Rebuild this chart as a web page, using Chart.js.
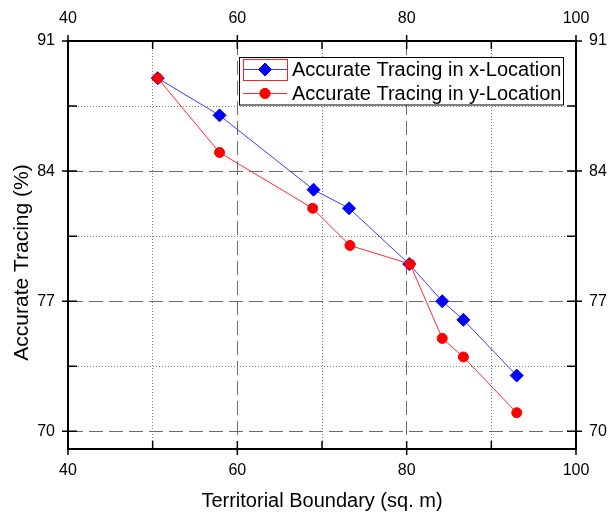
<!DOCTYPE html>
<html><head><meta charset="utf-8">
<script src="https://cdn.jsdelivr.net/npm/chart.js@4.4.1/dist/chart.umd.min.js"></script>
<style>html,body{margin:0;padding:0;background:#fff}canvas{display:block}</style>
</head><body>
<canvas id="c" width="608" height="514"></canvas>
<script>
// ---- data ----
const xTicks = [40, 50, 60, 70, 80, 90, 100];
const xMajor = [40, 60, 80, 100];
const yTicks = [70, 73.5, 77, 80.5, 84, 87.5, 91];
const yMajor = [70, 77, 84, 91];

const xLocArea = [50.6, 57.9, 69.0, 73.2, 80.3, 84.2, 86.7, 93.0];
const xLocAcc  = [89, 87, 83, 82, 79, 77, 76, 73];
const yLocArea = [50.6, 57.9, 68.9, 73.3, 80.4, 84.2, 86.7, 93.0];
const yLocAcc  = [89, 85, 82, 80, 79, 75, 74, 71];

const seriesNames = ['Accurate Tracing in x-Location', 'Accurate Tracing in y-Location'];
const xTitle = 'Territorial Boundary (sq. m)';
const yTitle = 'Accurate Tracing (%)';

const FONT = '"Liberation Sans", Arial, sans-serif';
const isMajor = (v, arr) => arr.some(m => Math.abs(m - v) < 1e-6);
const pts = (xs, ys) => xs.map((x, i) => ({x: x, y: ys[i]}));

function gridColor(majors, ends) {
  return ctx => {
    if (!ctx.tick) return 'rgba(0,0,0,0)';
    const v = ctx.tick.value;
    if (ends.some(e => Math.abs(e - v) < 1e-6)) return 'rgba(0,0,0,0)';
    return isMajor(v, majors) ? '#6a6a6a' : '#808080';
  };
}
function gridDash(majors) {
  return ctx => {
    if (!ctx || !ctx.tick) return [];
    return isMajor(ctx.tick.value, majors) ? [14, 6] : [1, 2];
  };
}
const tickFont = {family: FONT, size: 16};

const decor = {
  id: 'decor',
  afterDatasetsDraw(chart) {
    const {ctx, chartArea: a, scales} = chart;
    ctx.save();
    // tick marks
    ctx.strokeStyle = '#000';
    ctx.lineWidth = 1.5;
    ctx.setLineDash([]);
    ctx.beginPath();
    xTicks.forEach(v => {
      const p = scales.x.getPixelForValue(v);
      const maj = isMajor(v, xMajor);
      ctx.moveTo(p, a.bottom + (maj ? 6 : 0)); ctx.lineTo(p, a.bottom - 8);
      ctx.moveTo(p, a.top - (maj ? 6 : 0)); ctx.lineTo(p, a.top + 8);
    });
    yTicks.forEach(v => {
      const p = scales.y.getPixelForValue(v);
      const maj = isMajor(v, yMajor);
      ctx.moveTo(a.left - (maj ? 6 : 0), p); ctx.lineTo(a.left + 9, p);
      ctx.moveTo(a.right + (maj ? 6 : 0), p); ctx.lineTo(a.right - 9, p);
    });
    ctx.stroke();

    // titles
    ctx.fillStyle = '#000';
    ctx.font = '20px ' + FONT;
    ctx.textAlign = 'center';
    ctx.textBaseline = 'alphabetic';
    ctx.fillText(xTitle, (a.left + a.right) / 2, 507);
    ctx.save();
    ctx.translate(27.5, 262.5);
    ctx.rotate(-Math.PI / 2);
    ctx.font = '21px ' + FONT;
    ctx.fillText(yTitle, 0, 0);
    ctx.restore();

    // legend
    const bx = 239.5, by = 57.5, bw = 324, bh = 47.5;
    ctx.fillStyle = '#fff';
    ctx.fillRect(bx, by, bw, bh);
    ctx.strokeStyle = '#000';
    ctx.lineWidth = 1;
    ctx.strokeRect(bx, by, bw, bh);
    const ds = chart.data.datasets;
    const rows = [{d: ds[1], y: 69.5}, {d: ds[0], y: 93.5}];
    rows.forEach(r => {
      ctx.strokeStyle = r.d.borderColor;
      ctx.lineWidth = 1;
      ctx.beginPath(); ctx.moveTo(243, r.y); ctx.lineTo(287, r.y); ctx.stroke();
      Chart.helpers.drawPoint(ctx, {pointStyle: r.d.pointStyle, radius: r.d.pointRadius, borderWidth: 1, rotation: 0}, 265, r.y);
      ctx.fillStyle = r.d.pointBackgroundColor;
      ctx.strokeStyle = r.d.pointBorderColor;
      ctx.fill(); ctx.stroke();
      ctx.fillStyle = '#000';
      ctx.font = '20px ' + FONT;
      ctx.textAlign = 'left';
      ctx.textBaseline = 'middle';
      ctx.fillText(r.d.label, 292, r.y + 1);
    });
    // selection frame around first legend symbol
    ctx.strokeStyle = '#ff2020';
    ctx.lineWidth = 1;
    ctx.strokeRect(243.5, 59.5, 44, 21);
    ctx.restore();
  }
};

new Chart(document.getElementById('c'), {
  type: 'line',
  data: {
    datasets: [
      {
        label: seriesNames[1],
        data: pts(yLocArea, yLocAcc),
        xAxisID: 'x', yAxisID: 'y',
        borderColor: '#ff2a2a', borderWidth: 1,
        pointStyle: 'circle', pointRadius: 5,
        pointBackgroundColor: '#ff0000', pointBorderColor: '#ff0000', pointBorderWidth: 1,
        order: 0, tension: 0
      },
      {
        label: seriesNames[0],
        data: pts(xLocArea, xLocAcc),
        xAxisID: 'x', yAxisID: 'y',
        borderColor: '#3a3aff', borderWidth: 1,
        pointStyle: 'rectRot', pointRadius: 6.5,
        pointBackgroundColor: '#0000ff', pointBorderColor: '#0000ff', pointBorderWidth: 1,
        order: 1, tension: 0
      }
    ]
  },
  options: {
    responsive: false,
    devicePixelRatio: 1,
    animation: false,
    layout: {padding: 0},
    plugins: {legend: {display: false}, tooltip: {enabled: false}},
    scales: {
      x: {
        type: 'linear', position: 'bottom', min: 40, max: 100,
        afterBuildTicks: s => { s.ticks = xTicks.map(v => ({value: v})); },
        afterFit: s => { s.height = 65; },
        ticks: {font: tickFont, color: '#000', padding: 12, maxRotation: 0,
                callback: v => isMajor(v, xMajor) ? String(v) : ''},
        grid: {drawTicks: false, lineWidth: 1, color: gridColor(xMajor, [40, 100])},
        border: {display: true, color: '#000', width: 2, dash: gridDash(xMajor)}
      },
      x2: {
        type: 'linear', position: 'top', min: 40, max: 100,
        afterBuildTicks: s => { s.ticks = xTicks.map(v => ({value: v})); },
        afterFit: s => { s.height = 41; },
        ticks: {font: tickFont, color: '#000', padding: 13, maxRotation: 0,
                callback: v => isMajor(v, xMajor) ? String(v) : ''},
        grid: {display: false, drawTicks: false},
        border: {display: true, color: '#000', width: 2}
      },
      y: {
        type: 'linear', position: 'left', min: 69.05, max: 91,
        afterBuildTicks: s => { s.ticks = yTicks.map(v => ({value: v})); },
        afterFit: s => { s.width = 68; },
        ticks: {font: tickFont, color: '#000', padding: 13,
                callback: v => isMajor(v, yMajor) ? String(v) : ''},
        grid: {drawTicks: false, lineWidth: 1, color: gridColor(yMajor, [91])},
        border: {display: true, color: '#000', width: 2, dash: gridDash(yMajor)}
      },
      y2: {
        type: 'linear', position: 'right', min: 69.05, max: 91,
        afterBuildTicks: s => { s.ticks = yTicks.map(v => ({value: v})); },
        afterFit: s => { s.width = 32; },
        ticks: {font: tickFont, color: '#000', padding: 13,
                callback: v => isMajor(v, yMajor) ? String(v) : ''},
        grid: {display: false, drawTicks: false},
        border: {display: true, color: '#000', width: 2}
      }
    }
  },
  plugins: [decor]
});
</script>
</body></html>
